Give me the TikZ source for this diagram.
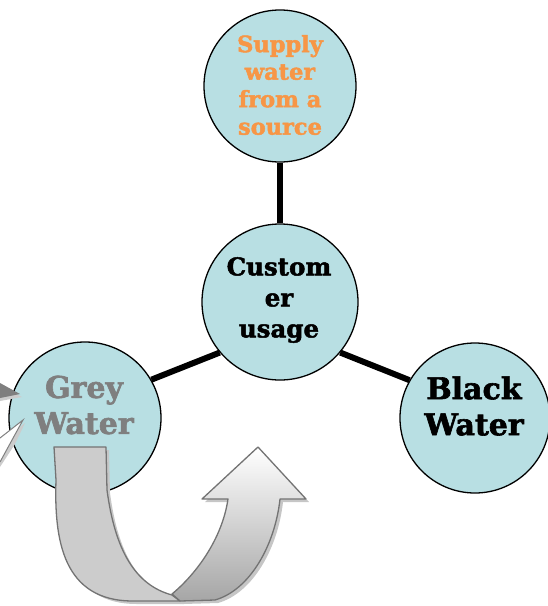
\documentclass[tikz,border=0pt]{standalone}
\usepackage{fontspec}
\setmainfont{DejaVu Serif}[BoldFeatures={FakeBold=2}]
\begin{document}
\begin{tikzpicture}[x=1pt,y=-1pt,
  bubble/.style={circle,draw=black,line width=1.3pt,fill=bubblefill,minimum size=152pt,inner sep=0pt,align=center,font=\bfseries},
  link/.style={line width=6pt,black},
  band/.style={draw=gray!90!black,line width=1.3pt,line join=round}]
\definecolor{bubblefill}{HTML}{B8DFE3}
\definecolor{orangetext}{HTML}{F79646}
\definecolor{greytext}{HTML}{7F7F7F}
\useasboundingbox (0,0) rectangle (548,606);
\node[bubble,minimum size=152pt] (supply) at (280,86) {};
\node[bubble,minimum size=156pt] (cust) at (280,302) {};
\node[bubble,minimum size=152pt] (grey) at (85,418) {};
\node[bubble,minimum size=150pt] (black) at (475,418) {};
\node[font=\bfseries\fontsize{22.5}{27.5}\selectfont,text=orangetext,align=center] (supplyt) at (280,85) {Supply\\water\\from a\\source};
\node[font=\bfseries\fontsize{24.5}{31}\selectfont,align=center] (custt) at (279,300) {Custom\\er\\usage};
\node[font=\bfseries\fontsize{30}{36}\selectfont,text=greytext,align=center] (greyt) at (84,405) {Grey\\Water};
\node[font=\bfseries\fontsize{30}{36}\selectfont,align=center] (blackt) at (474,406) {Black\\Water};
\draw[link] (supply.south) -- (cust.north);
\draw[link] (cust.220) -- (grey.30);
\draw[link] (cust.320) -- (black.150);
% left edge arrow tips
\fill[gray!40] (0,386) -- (22,397) -- (0,401) -- cycle;
\fill[greytext] (0,383) -- (20,394) -- (0,398) -- cycle;
\fill[gray!40] (0,443) -- (25,423) -- (15,444) -- (0,467) -- cycle;
\filldraw[fill=white,draw=gray,line width=1pt] (0,438) -- (23,420) -- (12,440) -- (0,462);
% U arrow shadow
\fill[gray!45] (57,450) -- ++(52,0) -- ++(1,43) .. controls +(8,60) and +(-38,-10) .. ++(66,105) -- ++(8,6) -- ++(-47,0) .. controls +(-70,0) and +(4,60) .. ++(-77,-120) -- cycle;
\fill[gray!45] (175,597) .. controls (198,578) and (225,543) .. (231,502) -- (205,502) -- (261,450) -- (309,502) -- (283,502) .. controls (278,548) and (253,593) .. (218,603) -- (183,604) -- cycle;
% U arrow: left band
\draw[band,fill=gray!40] (54,447) -- (106,447) -- (107,490) .. controls (115,550) and (135,585) .. (172,595) -- (180,601) -- (133,601) .. controls (63,601) and (54,540) .. (56,480) -- cycle;
% U arrow: right band with head
\draw[band,top color=white,bottom color=gray!70] (172,594) .. controls (195,575) and (222,540) .. (228,499) -- (202,499) -- (258,447) -- (306,499) -- (280,499) .. controls (275,545) and (250,590) .. (215,600) -- (180,601) -- cycle;
\end{tikzpicture}
\end{document}
